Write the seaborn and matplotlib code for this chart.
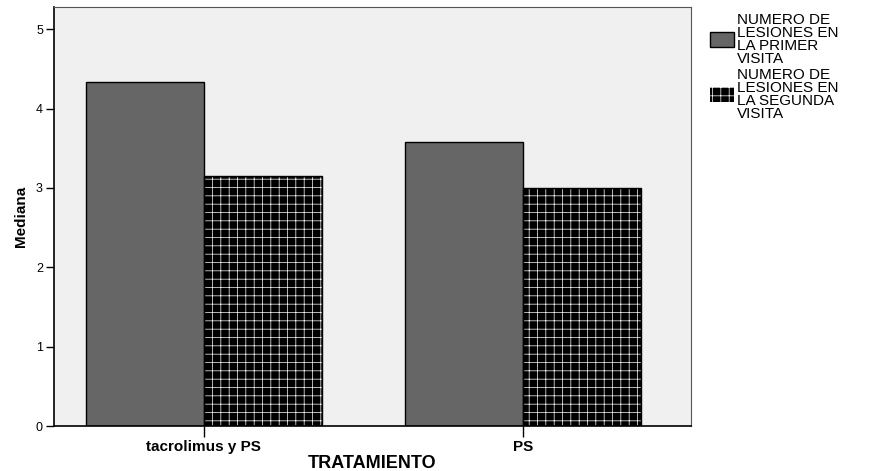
import matplotlib
matplotlib.use("Agg")
import matplotlib.pyplot as plt
import seaborn as sns
import pandas as pd
from matplotlib.patches import Rectangle, Patch

# Datos
tratamientos = ["tacrolimus y PS", "PS"]
visita_1 = [4.33, 3.58]
visita_2 = [3.15, 3.00]
series = ["NUMERO DE\nLESIONES EN\nLA PRIMER\nVISITA",
          "NUMERO DE\nLESIONES EN\nLA SEGUNDA\nVISITA"]

df = pd.DataFrame({
    "TRATAMIENTO": tratamientos * 2,
    "Mediana": visita_1 + visita_2,
    "serie": [series[0]] * 2 + [series[1]] * 2,
})

sns.set_theme(style="white")
plt.rcParams["font.family"] = ["Liberation Sans", "DejaVu Sans"]
plt.rcParams["hatch.linewidth"] = 0.5
plt.rcParams["text.color"] = "black"
plt.rcParams["axes.labelcolor"] = "black"
plt.rcParams["xtick.color"] = "black"
plt.rcParams["ytick.color"] = "black"

fig = plt.figure(figsize=(8.84, 4.71), dpi=100)
ax = fig.add_axes([0.0611, 0.0955, 0.7206, 0.8895])
ax.set_facecolor("#f0f0f0")

gris = "#666666"
sns.barplot(data=df, x="TRATAMIENTO", y="Mediana", hue="serie",
            palette=[gris, "black"], width=0.74, ax=ax, legend=False,
            edgecolor="black", linewidth=1.0)

# patron de cruces blancas sobre negro para la segunda visita
n = len(tratamientos)
for p in ax.patches[n:2 * n]:
    p.set_hatch("++")
    p.set_edgecolor("white")
    p.set_linewidth(0)
    ax.add_patch(Rectangle(p.get_xy(), p.get_width(), p.get_height(),
                           fill=False, edgecolor="black", linewidth=1.0,
                           zorder=p.get_zorder() + 0.1))

ax.set_xlim(-0.47, 1.527)
ax.set_ylim(0, 5.28)
ax.set_yticks([0, 1, 2, 3, 4, 5])
ax.tick_params(axis="y", direction="out", length=6, width=1, labelsize=9, pad=2)
ax.tick_params(axis="x", direction="out", length=8, width=1, pad=2)
ax.tick_params(left=True, bottom=True)
for lbl in ax.get_xticklabels():
    lbl.set_fontweight("bold")
    lbl.set_fontsize(11)

for s in ["left", "bottom"]:
    ax.spines[s].set_color("black")
    ax.spines[s].set_linewidth(1.2)
for s in ["top", "right"]:
    ax.spines[s].set_color("#555555")
    ax.spines[s].set_linewidth(0.8)

ax.set_ylabel("Mediana", fontsize=11, fontweight="bold", labelpad=6)
ax.set_xlabel("TRATAMIENTO", fontsize=13, fontweight="bold", labelpad=1)

handles = [Patch(facecolor=gris, edgecolor="black", linewidth=1.0),
           Patch(facecolor="black", edgecolor="white", hatch="++", linewidth=0)]
leg = ax.legend(handles, series, loc="upper left", bbox_to_anchor=(1.02, 1.0),
                frameon=False, fontsize=11, handlelength=1.6, handleheight=1.1,
                handletextpad=0.2, labelspacing=0.15, borderaxespad=0.0)
for t in leg.get_texts():
    t.set_linespacing(0.9)

fig.savefig("out.png", dpi=100)
